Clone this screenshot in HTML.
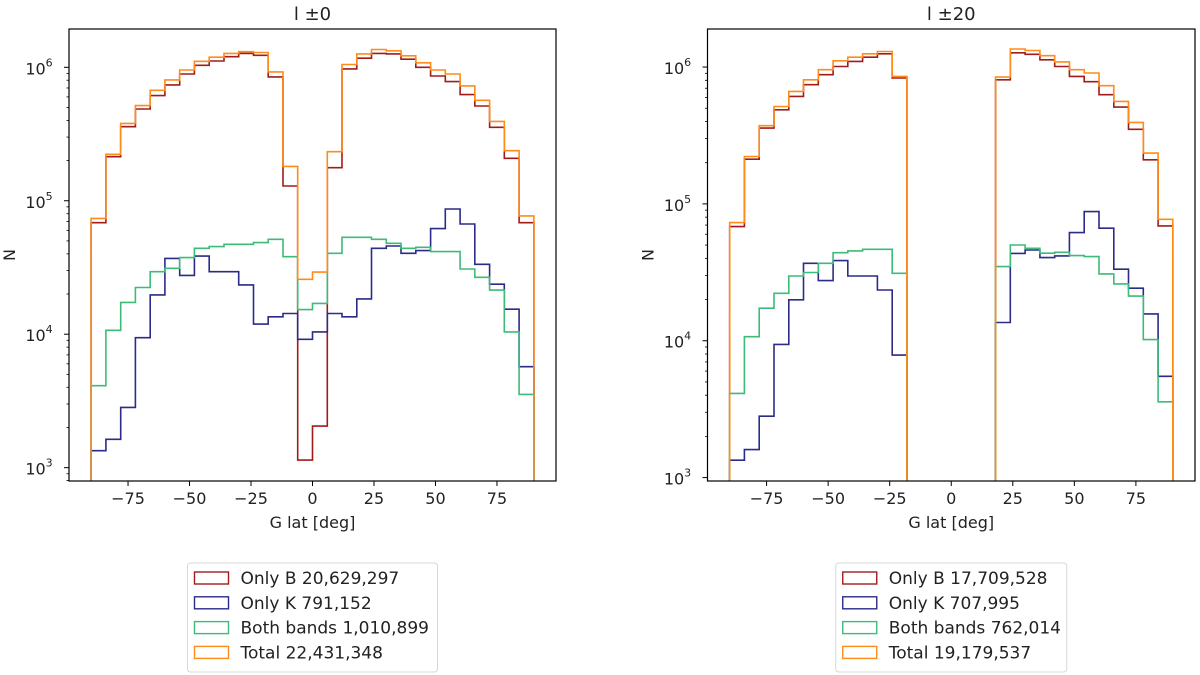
<!DOCTYPE html>
<html><head><meta charset="utf-8"><style>
html,body{margin:0;padding:0;background:#fff;}
svg{display:block;font-family:"DejaVu Sans","Liberation Sans",sans-serif;}
</style></head><body>
<svg id="chart" width="1200" height="675" viewBox="0 0 1200 675"></svg>
<script>
const binEdgeStart = -90;
const binWidth = 6;
const xTicks = [-75, -50, -25, 0, 25, 50, 75];
const yTickExps = [3, 4, 5, 6];
const seriesNames = ["Only B", "Only K", "Both bands", "Total"];
const seriesColors = ["#a01c1c", "#2b2b8a", "#3dbb78", "#ff8c1a"];
const titles = ["l \u00b10", "l \u00b120"];
const legendLeft = ["Only B 20,629,297", "Only K 791,152", "Both bands 1,010,899", "Total 22,431,348"];
const legendRight = ["Only B 17,709,528", "Only K 707,995", "Both bands 762,014", "Total 19,179,537"];

const p0OnlyB = [68500,214000,359000,487000,614000,738000,891000,1035000,1115000,1200000,1270000,1230000,847000,129000,1140,2050,177000,972000,1170000,1270000,1260000,1150000,1000000,861000,781000,624000,513000,355000,208000,68500];
const p0OnlyK = [1340,1630,2830,9420,19700,37000,27600,38500,29400,29400,23400,11900,13500,14300,9160,10400,14300,13500,18400,44000,45800,40400,42300,61800,86700,67000,33400,23700,15400,5710];
const p0Both = [4110,10700,17300,22400,29400,31200,37500,44000,45300,47200,47200,48600,51400,38100,15300,17000,40400,53200,53200,51400,48000,44000,44800,41600,41600,30800,26700,21400,10400,3540];
const p0Total = [73800,223000,380000,516000,673000,804000,955000,1110000,1190000,1270000,1310000,1290000,923000,181000,25800,29200,233000,1050000,1260000,1360000,1330000,1220000,1080000,955000,891000,725000,566000,393000,237000,77000];

const p1OnlyB = [68200,212000,358000,487000,610000,743000,879000,1010000,1100000,1180000,1250000,831000,0,0,0,0,0,0,807000,1270000,1240000,1130000,1010000,854000,782000,628000,510000,351000,210000,69000];
const p1OnlyK = [1340,1600,2810,9400,19900,36800,27500,38500,29700,29700,23500,7850,0,0,0,0,0,0,13600,43500,46000,40500,41700,61700,87900,66400,33300,24200,15700,5500];
const p1Both = [4120,10700,17300,22200,29700,31500,36800,44000,45300,46600,46600,31100,0,0,0,0,0,0,34800,50100,47400,43600,44300,41900,41200,30800,26000,21200,10200,3580];
const p1Total = [73000,222000,373000,515000,664000,807000,956000,1110000,1180000,1250000,1300000,854000,0,0,0,0,0,0,845000,1355000,1320000,1210000,1090000,956000,904000,730000,561000,394000,235000,77200];

const svg = document.getElementById('chart');
const NS = 'http://www.w3.org/2000/svg';
function mk(tag, attrs, parent){const e=document.createElementNS(NS,tag);for(const k in attrs)e.setAttribute(k,attrs[k]);(parent||svg).appendChild(e);return e;}

function panel(cfg, series, title, legendLabels, idx){
  const g = mk('g',{});
  
  
  const {L,R,T,B,ylo,yhi} = cfg;
  const xs = v => L + (v + 99) / 198 * (R - L);
  const ys = v => { const lv = Math.log10(Math.max(v, 1e-9)); return B - (lv - ylo) / (yhi - ylo) * (B - T); };
  const clip = 'clip'+idx;
  const cp = mk('clipPath',{id:clip},g); mk('rect',{x:L,y:T,width:R-L,height:B-T},cp);
  series.forEach((vals, si) => {
    let d = 'M' + xs(binEdgeStart) + ',' + (B+5);
    vals.forEach((v, i) => {
      const x0 = xs(binEdgeStart + i*binWidth), x1 = xs(binEdgeStart + (i+1)*binWidth);
      const y = v > 0 ? ys(v) : B + 5;
      d += ' L' + x0.toFixed(1) + ',' + y.toFixed(1) + ' L' + x1.toFixed(1) + ',' + y.toFixed(1);
    });
    d += ' L' + xs(binEdgeStart + vals.length*binWidth) + ',' + (B+5);
    const p = mk('path',{d:d,fill:'none',stroke:seriesColors[si],'stroke-width':1.6,'clip-path':'url(#'+clip+')'},g);
    
    
  });
  mk('rect',{x:L,y:T,width:R-L,height:B-T,fill:'none',stroke:'#000','stroke-width':1.2},g);
  xTicks.forEach(t => {
    const x = xs(t);
    mk('line',{x1:x,x2:x,y1:B,y2:B+5,stroke:'#000','stroke-width':1},g);
    const tx = mk('text',{x:x,y:B+23,'text-anchor':'middle','font-size':16,fill:'#222'},g);
    tx.textContent = t < 0 ? '\u2212' + Math.abs(t) : String(t);
    
    
  });
  for (let e = 2; e <= 6; e++) {
    for (let m = 1; m <= 9; m++) {
      const v = m * Math.pow(10, e);
      const lv = Math.log10(v);
      if (lv < ylo || lv > yhi) continue;
      const y = ys(v);
      mk('line',{x1:L-(m===1?5:2.5),x2:L,y1:y,y2:y,stroke:'#000','stroke-width':m===1?1:0.8},g);
    }
  }
  yTickExps.forEach(e => {
    const y = ys(Math.pow(10, e));
    const tx = mk('text',{x:L-30,y:y+7,'text-anchor':'middle','font-size':16,fill:'#222'},g);
    tx.textContent = '10';
    const sup = mk('tspan',{dy:-8,'font-size':11},tx); sup.textContent = String(e);
    
    
  });
  const cx = xs(0);
  const xl = mk('text',{x:cx,y:B+47,'text-anchor':'middle','font-size':16,fill:'#222'},g);
  xl.textContent = 'G lat [deg]';
  
  
  const yl = mk('text',{x:0,y:0,'text-anchor':'middle','font-size':16,fill:'#222',transform:'translate('+(L-54)+','+((T+B)/2)+') rotate(-90)'},g);
  yl.textContent = 'N';
  
  
  const tt = mk('text',{x:cx,y:T-9,'text-anchor':'middle','font-size':18,fill:'#222'},g);
  tt.textContent = title;
  
  
  const lw = cfg.legW, lx = cx - lw/2, ly = 563;
  const lg = mk('g',{},g);
  
  
  mk('rect',{x:lx,y:ly,width:lw,height:109,rx:3,fill:'#fff',stroke:'#d8d8d8','stroke-width':1},lg);
  legendLabels.forEach((lab, i) => {
    const y = 578 + i*24.8;
    const it = mk('g',{},lg);
    
    
    mk('rect',{x:lx+7,y:y-6,width:34,height:12,fill:'none',stroke:seriesColors[i],'stroke-width':1.4},it);
    const t = mk('text',{x:lx+53,y:y+6,'font-size':17,fill:'#222'},it);
    t.textContent = lab;
  });
}
panel({L:69,R:556,T:29,B:481,ylo:2.9,yhi:6.287,legW:250}, [p0OnlyB,p0OnlyK,p0Both,p0Total], titles[0], legendLeft, 0);
panel({L:707.5,R:1195,T:29,B:481,ylo:2.975,yhi:6.278,legW:231}, [p1OnlyB,p1OnlyK,p1Both,p1Total], titles[1], legendRight, 1);
</script>
</body></html>
